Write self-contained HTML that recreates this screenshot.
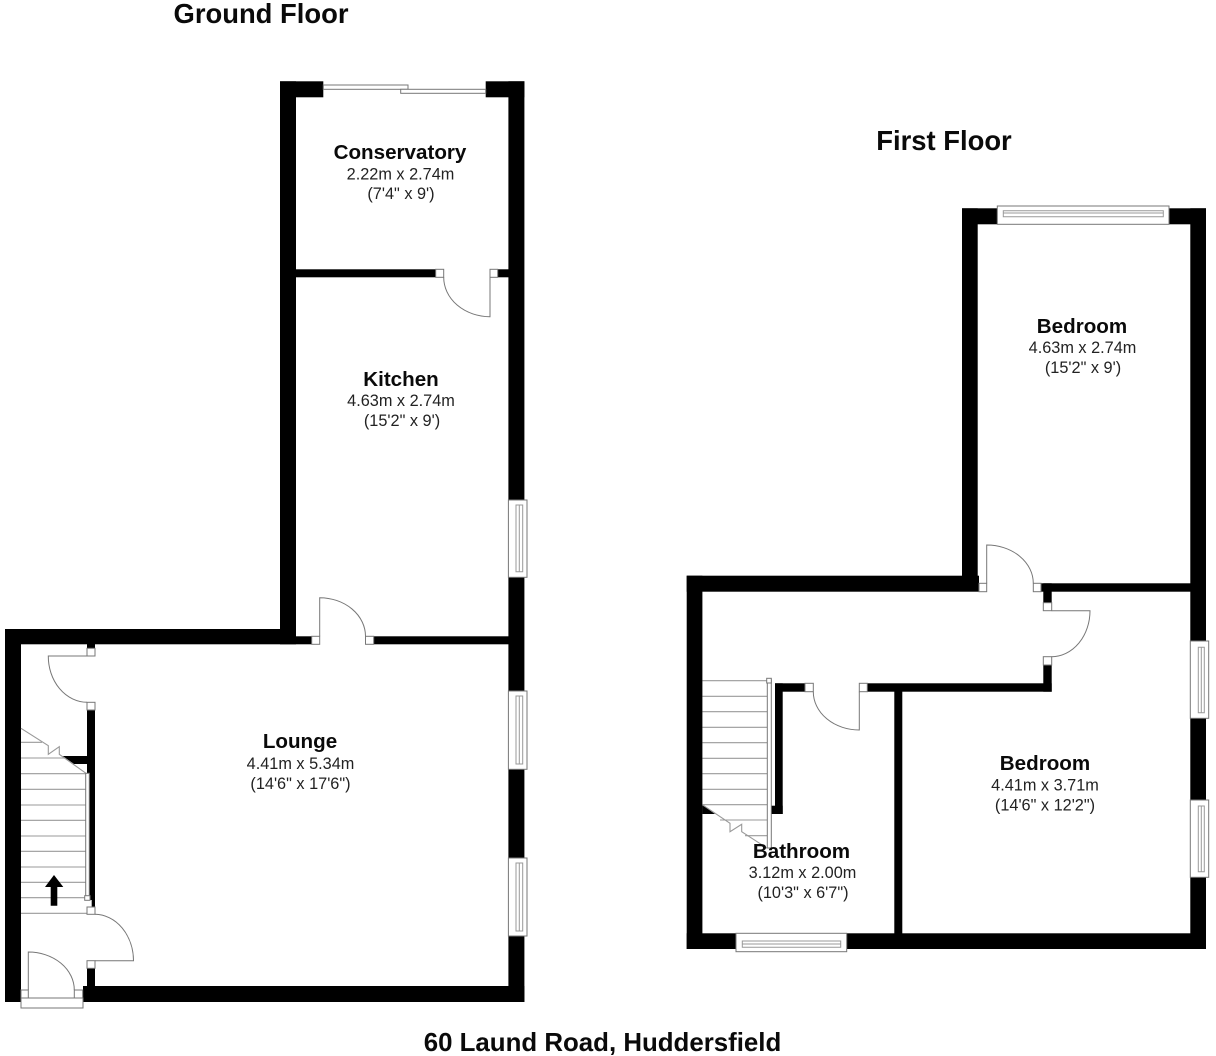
<!DOCTYPE html>
<html><head><meta charset="utf-8"><style>
html,body{margin:0;padding:0;background:#fff;width:1216px;height:1056px;overflow:hidden}
svg{display:block}
text{font-family:"Liberation Sans",Arial,sans-serif;fill:#0a0a0a;text-anchor:middle}
.t{font-size:27.4px;font-weight:bold}
.n{font-size:20.6px;font-weight:bold}
.d{font-size:16.3px;fill:#222}
.l{fill:none;stroke:#777;stroke-width:1}
.i{fill:none;stroke:#999;stroke-width:1}
.s{fill:none;stroke:#999;stroke-width:1.1}
.j,.w{fill:#fff;stroke:#777;stroke-width:1}
.k{fill:#000}
</style></head><body>
<svg width="1216" height="1056" viewBox="0 0 1216 1056" xmlns="http://www.w3.org/2000/svg">
<rect width="1216" height="1056" fill="#fff"/>

<!-- Ground floor stair treads -->
<path class="s" d="M21 742.3H42M21 758H64M21 773.7H86M21 789.3H86M21 805H86M21 820.3H86M21 836H86M21 851.3H86M21 867H86M21 882.3H86M21 897.7H86M21 913.3H87"/>

<!-- Ground floor walls -->
<g class="k">
<rect x="5" y="629" width="16" height="373"/>
<rect x="5" y="629" width="291" height="15.3"/>
<rect x="280" y="81.3" width="16" height="563"/>
<rect x="280" y="81.3" width="43.3" height="16"/>
<rect x="485.7" y="81.3" width="38.7" height="16"/>
<rect x="508.4" y="81.3" width="16" height="920.7"/>
<rect x="83" y="986" width="441.4" height="16"/>
<rect x="296" y="636.3" width="15.7" height="8"/>
<rect x="373.7" y="636.3" width="135" height="8"/>
<rect x="296" y="269.3" width="139.7" height="8"/>
<rect x="497.7" y="269.3" width="11" height="8"/>
<rect x="87" y="644" width="8" height="5"/>
<rect x="87" y="710" width="8" height="63.3"/>
<rect x="89.3" y="773" width="5.7" height="127"/>
<rect x="91.7" y="900" width="3.3" height="7"/>
<rect x="87" y="968" width="8" height="18"/>
<polygon points="62.7,756 87,756 87,764 74,764"/>
<polygon points="50.7,905.7 57.3,905.7 57.3,887 63.3,887 54,875 45,887 50.7,887"/>
</g>

<!-- Ground floor stairs detail -->
<path class="s" d="M21 728.3L48.3 745.7V754.3L59.3 746.7V754.3L86 773.3"/>
<rect class="j" x="85.7" y="773.3" width="3.6" height="123.7"/>
<rect class="j" x="84.7" y="895.7" width="5.3" height="4.6"/>

<!-- Ground floor jambs -->
<g class="j">
<rect x="87" y="648.3" width="8" height="7.7"/>
<rect x="87" y="702.3" width="8" height="7.7"/>
<rect x="87" y="907" width="8" height="7.3"/>
<rect x="87" y="960.7" width="8" height="7.6"/>
<rect x="21" y="990" width="7.3" height="8"/>
<rect x="74.3" y="990" width="8.4" height="8"/>
<rect x="21" y="998" width="62" height="10"/>
<rect x="311.7" y="636.3" width="8" height="8"/>
<rect x="365.5" y="636.3" width="8.2" height="8"/>
<rect x="435.7" y="269.3" width="8" height="8"/>
<rect x="490" y="269.3" width="7.7" height="8"/>
</g>

<!-- Ground floor doors -->
<g class="l">
<path d="M87 656H48.3A39 46 0 0 0 87 702.3"/>
<path d="M95 914.3A39 46.5 0 0 1 133.5 960.7H95"/>
<path d="M28.3 990V952A46 38 0 0 1 74.3 990"/>
<path d="M319.7 636.3V597.7A46 38.6 0 0 1 365.5 636.3"/>
<path d="M443.7 277.3A46.3 39.4 0 0 0 490 316.7V277.3"/>
</g>

<!-- Conservatory sliding door -->
<g class="w">
<rect x="323.3" y="85" width="84.7" height="4.3"/>
<rect x="400.7" y="89.3" width="85" height="4"/>
</g>

<!-- Ground floor windows -->
<g class="w">
<rect x="508.4" y="500" width="18.6" height="77.3"/>
<rect x="508.4" y="691" width="18.6" height="78.3"/>
<rect x="508.4" y="858" width="18.6" height="78"/>
</g>
<path class="i" d="M516 505H522.7V571.7H516ZM519.3 505V571.7M516 696H522.7V764H516ZM519.3 696V764M516 863H522.7V931H516ZM519.3 863V931"/>

<!-- First floor stair treads -->
<path class="s" d="M702.3 680.7H767.3M702.3 696.3H767.3M702.3 711.7H767.3M702.3 727.3H767.3M702.3 742.7H767.3M702.3 758.3H767.3M702.3 773.7H767.3M702.3 789.3H767.3M702.3 804.7H767.3M720 820H767.3M745 835.7H767.3"/>

<!-- First floor walls -->
<g class="k">
<rect x="686.7" y="575.7" width="15.7" height="373.3"/>
<rect x="686.7" y="575.7" width="292.3" height="16"/>
<rect x="962" y="208.3" width="15.7" height="383"/>
<rect x="962" y="208.3" width="36" height="16"/>
<rect x="1169" y="208.3" width="37" height="16"/>
<rect x="1190.3" y="208.3" width="15.7" height="740.7"/>
<rect x="686.7" y="933.3" width="519.3" height="15.7"/>
<rect x="1041" y="583.3" width="150" height="8.4"/>
<rect x="1043.3" y="583.3" width="8.4" height="19.4"/>
<rect x="1043.3" y="665" width="8.4" height="26.7"/>
<rect x="867.3" y="683.3" width="184.4" height="8.4"/>
<rect x="775" y="683.3" width="30" height="8.4"/>
<rect x="775" y="683.3" width="7.7" height="130.7"/>
<rect x="771.3" y="805.7" width="11.4" height="8.3"/>
<rect x="894.3" y="691" width="8" height="243"/>
<polygon points="702.3,804.7 715,814 702.3,814"/>
</g>

<!-- First floor stairs detail -->
<path class="s" d="M702.3 804.7L730 823.3V831.7L741.7 824.3V831.7L767.3 848.3"/>
<rect class="j" x="767.3" y="680" width="4" height="168"/>
<rect class="j" x="766.7" y="678.3" width="4.6" height="4.7"/>

<!-- First floor jambs -->
<g class="j">
<rect x="979" y="583.3" width="7.7" height="8.4"/>
<rect x="1033.3" y="583.3" width="7.7" height="8.4"/>
<rect x="1043.3" y="602.7" width="8.4" height="8"/>
<rect x="1043.3" y="656.7" width="8.4" height="8.3"/>
<rect x="805" y="683.3" width="8.3" height="8.4"/>
<rect x="859.3" y="683.3" width="8" height="8.4"/>
</g>

<!-- First floor doors -->
<g class="l">
<path d="M986.7 583.3V545A46.6 38.3 0 0 1 1033.3 583.3"/>
<path d="M1051.7 610.7H1090A38.3 46 0 0 1 1051.7 656.7"/>
<path d="M813.3 691.7A46 38.3 0 0 0 859.3 730V691.7"/>
</g>

<!-- First floor windows -->
<g class="w">
<rect x="997.3" y="206" width="171.7" height="18.3"/>
<rect x="736" y="933.3" width="110.7" height="18.4"/>
<rect x="1190.3" y="641" width="18.4" height="77.3"/>
<rect x="1190.3" y="800" width="18.4" height="77.3"/>
</g>
<path class="i" d="M1003.3 210.7H1163.3V216.7H1003.3ZM1003.3 213H1163.3M742.3 941H840.7V947.3H742.3ZM742.3 944H840.7M1198.3 647.3H1204.3V712.7H1198.3ZM1201.3 647.3V712.7M1198.3 806H1204.3V871.7H1198.3ZM1201.3 806V871.7"/>

<!-- Labels -->
<text class="t" x="261" y="23">Ground Floor</text>
<text class="t" x="944" y="150">First Floor</text>
<text class="t" x="602.5" y="1051" style="font-size:25.85px">60 Laund Road, Huddersfield</text>

<text class="n" x="400" y="159">Conservatory</text>
<text class="d" x="400.5" y="179.5">2.22m x 2.74m</text>
<text class="d" x="401" y="199">(7'4" x 9')</text>

<text class="n" x="401" y="386">Kitchen</text>
<text class="d" x="401" y="406">4.63m x 2.74m</text>
<text class="d" x="402" y="426">(15'2" x 9')</text>

<text class="n" x="300" y="748">Lounge</text>
<text class="d" x="300.5" y="769">4.41m x 5.34m</text>
<text class="d" x="300.5" y="789">(14'6" x 17'6")</text>

<text class="n" x="1082" y="333">Bedroom</text>
<text class="d" x="1082.5" y="353">4.63m x 2.74m</text>
<text class="d" x="1083" y="373">(15'2" x 9')</text>

<text class="n" x="1045" y="770">Bedroom</text>
<text class="d" x="1045" y="790.5">4.41m x 3.71m</text>
<text class="d" x="1045" y="810.5">(14'6" x 12'2")</text>

<text class="n" x="801.5" y="858">Bathroom</text>
<text class="d" x="802.5" y="878">3.12m x 2.00m</text>
<text class="d" x="803" y="898">(10'3" x 6'7")</text>
</svg>
</body></html>
